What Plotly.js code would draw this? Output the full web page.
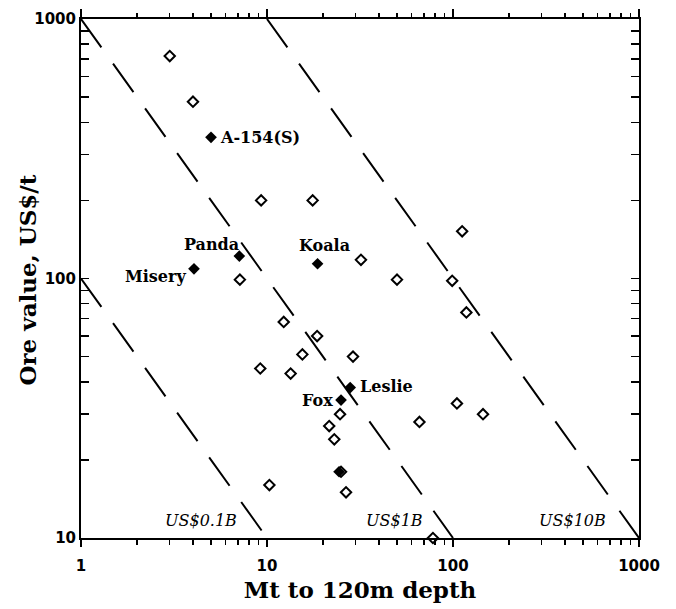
<!DOCTYPE html>
<html>
<head>
<meta charset="utf-8">
<script src="https://cdn.plot.ly/plotly-3.0.1.min.js"></script>
<style>
  html, body { margin: 0; padding: 0; background: #fff; }
  #chart { width: 676px; height: 609px; }
</style>
</head>
<body>
<div id="chart"></div>
<script>
// Deposits without a name: tonnage (Mt to 120 m) and ore value (US$/t)
const otherTonnage = [3, 4, 9.3, 17.6, 7.15, 112, 32, 50, 99, 12.3, 18.6, 15.5, 9.2, 13.4, 29, 118, 21.6, 23, 24.7, 105, 145, 66, 25, 26.6, 10.3, 78];
const otherValue   = [720, 480, 200, 200, 99, 152, 118, 99, 98, 68, 60, 51, 45, 43, 50, 74, 27, 24, 30, 33, 30, 28, 18, 15, 16, 10];

// Named pipes (filled markers)
const namedPipes   = ['A-154(S)', 'Panda', 'Misery', 'Koala', 'Fox', 'Leslie', ''];
const namedTonnage = [5, 7.1, 4.05, 18.7, 25, 28, 24.4];
const namedValue   = [350, 122, 109, 114, 34, 38, 18];

// Iso-value lines: tonnage x value = constant (US$ millions)
const isoValues = [100, 1000, 10000];
const isoLabels = ['US$0.1B', 'US$1B', 'US$10B'];

// Axis ticks and titles
const majorTicks = [1, 10, 100, 1000];
const yMajorTicks = [10, 100, 1000];
const minorTicks = [];
[1, 10, 100].forEach(d => { for (let k = 2; k <= 9; k++) minorTicks.push(k * d); });
const xTitle = 'Mt to 120m depth';
const yTitle = 'Ore value, US$/t';

const X_MIN = 1, X_MAX = 1000, Y_MIN = 10, Y_MAX = 1000;

const traces = [];

// Dashed iso-value lines clipped to the plotting window
isoValues.forEach(v => {
  const x0 = Math.max(X_MIN, v / Y_MAX);
  const x1 = Math.min(X_MAX, v / Y_MIN);
  traces.push({
    type: 'scatter', mode: 'lines',
    x: [x0, x1], y: [v / x0, v / x1],
    line: { color: '#000', width: 2, dash: '35px,20px' },
    hoverinfo: 'skip', showlegend: false
  });
});

traces.push({
  type: 'scatter', mode: 'markers',
  x: otherTonnage, y: otherValue,
  marker: { symbol: 'diamond-open', size: 8, color: '#000', line: { width: 2, color: '#000' } },
  cliponaxis: false, showlegend: false
});

traces.push({
  type: 'scatter', mode: 'markers',
  x: namedTonnage, y: namedValue, text: namedPipes,
  marker: { symbol: 'diamond', size: 9, color: '#000', line: { width: 0 } },
  cliponaxis: false, showlegend: false
});

// Empty trace that carries the top x axis
traces.push({
  type: 'scatter', mode: 'markers', x: [null], y: [null],
  xaxis: 'x2', yaxis: 'y', showlegend: false, hoverinfo: 'skip'
});

const labelFont = { family: 'DejaVu Serif', size: 16, color: '#000', weight: 700 };
const isoFont = { family: 'DejaVu Serif', size: 16, color: '#000', style: 'italic' };
const tickFont = { family: 'DejaVu Sans', size: 15, color: '#000', weight: 700 };
const titleFont = { family: 'DejaVu Serif', size: 23, color: '#000', weight: 700 };

// Label offsets around each named pipe
const labelPlacement = {
  'A-154(S)': { xanchor: 'left',   xshift: 7,  yshift: 0 },
  'Panda':    { xanchor: 'right',  xshift: 2,  yshift: 12 },
  'Misery':   { xanchor: 'right',  xshift: -6, yshift: -8 },
  'Koala':    { xanchor: 'center', xshift: 7,  yshift: 18 },
  'Fox':      { xanchor: 'right',  xshift: -6, yshift: 0 },
  'Leslie':   { xanchor: 'left',   xshift: 8,  yshift: 1 }
};

const annotations = [];
namedPipes.forEach((name, i) => {
  if (!name) return;
  const p = labelPlacement[name];
  annotations.push({
    x: Math.log10(namedTonnage[i]), y: Math.log10(namedValue[i]),
    xref: 'x', yref: 'y', text: name, showarrow: false,
    xanchor: p.xanchor, yanchor: 'middle', xshift: p.xshift, yshift: p.yshift,
    font: labelFont
  });
});

// Iso-line captions along the bottom
const isoLabelX = [4.42, 48.2, 437];
isoLabels.forEach((t, i) => {
  annotations.push({
    x: Math.log10(isoLabelX[i]), y: Math.log10(11.66),
    xref: 'x', yref: 'y', text: t, showarrow: false,
    xanchor: 'center', yanchor: 'middle', font: isoFont
  });
});

// Vertical axis title, set a little closer to the tick labels
annotations.push({
  xref: 'paper', yref: 'paper', x: -0.095, y: 0.498,
  xanchor: 'center', yanchor: 'middle', textangle: -90,
  text: yTitle, showarrow: false, font: titleFont
});

const layout = {
  width: 676, height: 609,
  margin: { l: 81, r: 37, t: 19, b: 71 },
  paper_bgcolor: '#fff', plot_bgcolor: '#fff',
  showlegend: false,
  xaxis: {
    type: 'log', range: [Math.log10(X_MIN), Math.log10(X_MAX)],
    showgrid: false, zeroline: false,
    showline: true, linecolor: '#000', linewidth: 2,
    ticks: 'outside', ticklen: 7, tickwidth: 1.5, tickcolor: '#000',
    tickmode: 'array', tickvals: majorTicks, ticktext: majorTicks.map(String),
    minor: { ticks: 'outside', ticklen: 5, tickwidth: 1.5, tickcolor: '#000', tickmode: 'array', tickvals: minorTicks, showgrid: false },
    tickfont: tickFont, ticklabelstandoff: 6,
    title: { text: xTitle, font: titleFont, standoff: 8 }
  },
  yaxis: {
    type: 'log', range: [Math.log10(Y_MIN), Math.log10(Y_MAX)],
    showgrid: false, zeroline: false,
    showline: true, linecolor: '#000', linewidth: 2, mirror: 'allticks',
    ticks: 'inside', ticklen: 8, tickwidth: 1.5, tickcolor: '#000',
    tickmode: 'array', tickvals: yMajorTicks, ticktext: yMajorTicks.map(String),
    minor: { ticks: 'inside', ticklen: 4.5, tickwidth: 1.5, tickcolor: '#000', tickmode: 'array', tickvals: minorTicks, showgrid: false },
    tickfont: tickFont
  },
  xaxis2: {
    type: 'log', range: [Math.log10(X_MIN), Math.log10(X_MAX)],
    overlaying: 'x', side: 'top', anchor: 'y',
    showgrid: false, zeroline: false, showticklabels: false,
    showline: true, linecolor: '#000', linewidth: 2,
    ticks: 'outside', ticklen: 8, tickwidth: 1.5, tickcolor: '#000',
    tickmode: 'array', tickvals: majorTicks,
    minor: { ticks: 'outside', ticklen: 4, tickwidth: 1.5, tickcolor: '#000', tickmode: 'array', tickvals: minorTicks, showgrid: false }
  },
  annotations: annotations
};

Plotly.newPlot('chart', traces, layout, { staticPlot: true, displayModeBar: false });
</script>
</body>
</html>
